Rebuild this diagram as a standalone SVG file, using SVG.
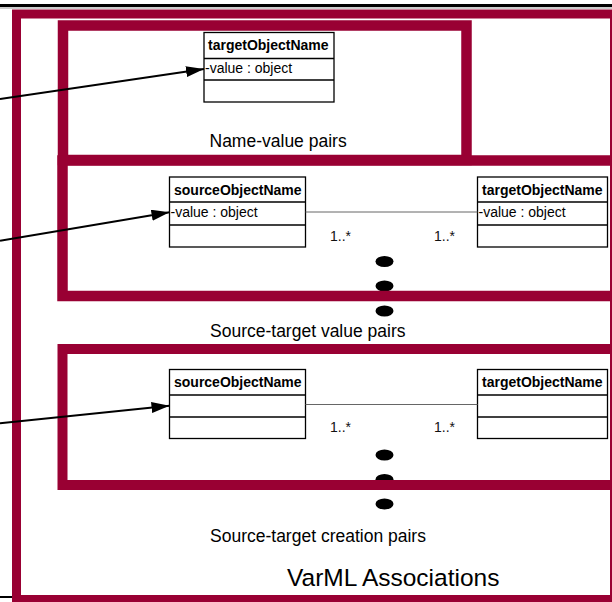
<svg xmlns="http://www.w3.org/2000/svg" width="612" height="602" viewBox="0 0 612 602">
  <style>
    .frame { fill: none; stroke: #990033; }
    .cls { fill: #ffffff; stroke: #000000; stroke-width: 1.3; }
    .sep { stroke: #000000; stroke-width: 1.3; }
    .assoc { stroke: #666666; stroke-width: 1; }
    .dot { fill: #000000; }
    .conn { stroke: #000000; stroke-width: 2; fill: none; marker-end: url(#arrow); }
    text { font-family: "Liberation Sans", Arial, Helvetica, sans-serif; fill: #000000; }
    .title { font-size: 14px; font-weight: bold; }
    .attr { font-size: 14px; }
    .mult { font-size: 14px; fill: #111111; }
    .label { font-size: 17.5px; }
    .caption { font-size: 24.5px; }
  </style>
  <defs>
    <marker id="arrow" viewBox="0 0 18 11" refX="18" refY="5.5" markerWidth="18" markerHeight="11" markerUnits="userSpaceOnUse" orient="auto">
      <path d="M0,0 L18,5.5 L0,11 Z" fill="#000000"/>
    </marker>
  </defs>

  <rect x="0" y="0" width="612" height="602" fill="#ffffff"/>

  <!-- page rules -->
  <rect x="0" y="4" width="612" height="3" fill="#000000"/>
  <line x1="0" y1="8" x2="612" y2="8" stroke="#999999" stroke-width="1"/>
  <rect x="0" y="596" width="12" height="2" fill="#000000"/>

  <!-- ellipsis dots (partly hidden behind the frame borders) -->
  <g id="dots">
    <ellipse class="dot" cx="384.5" cy="261.5" rx="9" ry="5.5"/>
    <ellipse class="dot" cx="384.5" cy="286" rx="9" ry="5.5"/>
    <ellipse class="dot" cx="384.5" cy="311" rx="9" ry="5.5"/>
    <ellipse class="dot" cx="384.5" cy="455" rx="9" ry="5.5"/>
    <ellipse class="dot" cx="384.5" cy="479.5" rx="9" ry="5.5"/>
    <ellipse class="dot" cx="384.5" cy="504" rx="9" ry="5.5"/>
  </g>

  <!-- outer VarML Associations frame -->
  <g id="varml-associations">
    <rect class="frame" x="16.5" y="14" width="598" height="585.5" stroke-width="9"/>
    <text class="caption" x="287" y="586">VarML Associations</text>
  </g>

  <!-- Name-value pairs -->
  <g id="name-value-pairs">
    <rect class="frame" x="63" y="25.5" width="403.5" height="134.5" stroke-width="10.5"/>
    <text class="label" x="209.5" y="146.5">Name-value pairs</text>
  </g>

  <!-- Source-target value pairs -->
  <g id="source-target-value-pairs">
    <rect class="frame" x="62.5" y="160.5" width="560" height="135.5" stroke-width="10.5"/>
    <text class="label" x="210" y="336.5">Source-target value pairs</text>
  </g>

  <!-- Source-target creation pairs -->
  <g id="source-target-creation-pairs">
    <rect class="frame" x="62.5" y="349" width="560" height="136" stroke-width="10"/>
    <text class="label" x="210" y="542">Source-target creation pairs</text>
  </g>

  <!-- classes -->
  <g id="nv-target">
    <rect class="cls" x="204" y="32.5" width="130" height="69.5"/>
    <line class="sep" x1="204" y1="58.5" x2="334" y2="58.5"/>
    <line class="sep" x1="204" y1="80" x2="334" y2="80"/>
    <text class="title" x="208" y="50">targetObjectName</text>
    <text class="attr" x="205" y="73">-value : object</text>
  </g>

  <g id="stv-source">
    <rect class="cls" x="169.5" y="177" width="136" height="70"/>
    <line class="sep" x1="169.5" y1="202" x2="305.5" y2="202"/>
    <line class="sep" x1="169.5" y1="225" x2="305.5" y2="225"/>
    <text class="title" x="174" y="194.5">sourceObjectName</text>
    <text class="attr" x="170.5" y="217">-value : object</text>
  </g>

  <g id="stv-target">
    <rect class="cls" x="477.5" y="177" width="130" height="70"/>
    <line class="sep" x1="477.5" y1="202" x2="607.5" y2="202"/>
    <line class="sep" x1="477.5" y1="225" x2="607.5" y2="225"/>
    <text class="title" x="482" y="194.5">targetObjectName</text>
    <text class="attr" x="478.5" y="217">-value : object</text>
  </g>

  <g id="stc-source">
    <rect class="cls" x="169.5" y="369.5" width="136" height="69"/>
    <line class="sep" x1="169.5" y1="395" x2="305.5" y2="395"/>
    <line class="sep" x1="169.5" y1="417" x2="305.5" y2="417"/>
    <text class="title" x="174" y="387">sourceObjectName</text>
  </g>

  <g id="stc-target">
    <rect class="cls" x="477.5" y="369.5" width="130" height="69"/>
    <line class="sep" x1="477.5" y1="395" x2="607.5" y2="395"/>
    <line class="sep" x1="477.5" y1="417" x2="607.5" y2="417"/>
    <text class="title" x="482" y="387">targetObjectName</text>
  </g>

  <!-- connectors -->
  <g id="connectors">
    <line class="assoc" x1="305.5" y1="212" x2="477.5" y2="212"/>
    <text class="mult" x="330" y="241">1..*</text>
    <text class="mult" x="434" y="241">1..*</text>

    <line class="assoc" x1="305.5" y1="404.5" x2="477.5" y2="404.5"/>
    <text class="mult" x="330" y="432">1..*</text>
    <text class="mult" x="434" y="432">1..*</text>

    <line class="conn" x1="0" y1="99" x2="204" y2="69"/>
    <line class="conn" x1="0" y1="240.7" x2="169.5" y2="212.3"/>
    <line class="conn" x1="0" y1="423.3" x2="169.5" y2="405.7"/>
  </g>
</svg>
